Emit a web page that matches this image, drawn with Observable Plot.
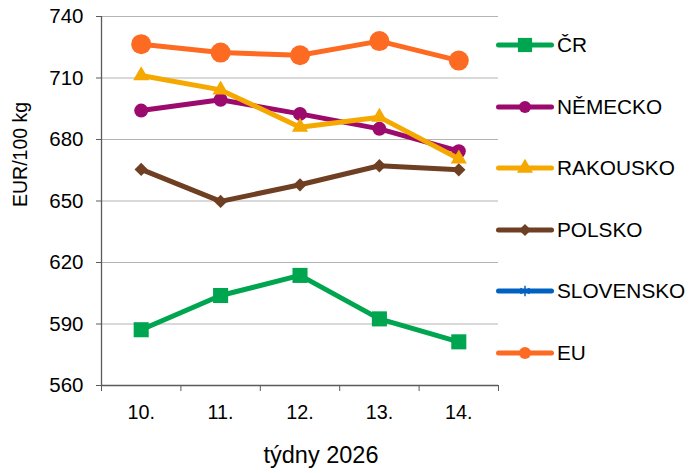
<!DOCTYPE html>
<html><head><meta charset="utf-8">
<script src="https://cdn.jsdelivr.net/npm/d3@7"></script>
<script src="https://cdn.jsdelivr.net/npm/@observablehq/plot@0.6"></script>
<style>
body{margin:0;background:#fff;font-family:"Liberation Sans",Arial,sans-serif}
#wrap{position:relative;width:690px;height:473px}
#legend{position:absolute;left:496px;top:0}
.item{position:absolute;left:0;display:flex;align-items:center;height:30px;font-size:20.8px;color:#000;white-space:nowrap}
.item span{margin-left:3px}
</style></head><body><div id="wrap"><div id="legend"></div></div>
<script>
const weeks = [10, 11, 12, 13, 14];
const weekLabels = ["10.", "11.", "12.", "13.", "14."];
const seriesNames = ["ČR", "NĚMECKO", "RAKOUSKO", "POLSKO", "SLOVENSKO", "EU"];
const cr = [587.2, 603.9, 613.7, 592.5, 581.3];
const nemecko = [694.1, 699.4, 692.5, 685.2, 674.3];
const rakousko = [711.2, 704.2, 686.0, 690.9, 670.6];
const polsko = [665.4, 649.8, 657.9, 667.2, 665.2];
const slovensko = [null, null, null, null, null];
const eu = [726.5, 722.4, 721.1, 728.0, 718.5];
const yTicks = [560, 590, 620, 650, 680, 710, 740];
const xTitle = "týdny 2026";
const yTitle = "EUR/100 kg";

const seriesValues = [cr, nemecko, rakousko, polsko, slovensko, eu];
const colors = ["#00a550", "#9b0a6c", "#f5a800", "#6e3f22", "#0062c0", "#fd6a22"];
const symbols = ["square", "circle", "triangle", "diamond2", "asterisk", "circle"];
const radii = [8.5, 7, 6, 6, 5, 10];

const boundaries = [...weeks.map(w => w - 0.5), weeks[weeks.length - 1] + 0.5];

const seriesMarks = seriesNames.flatMap((name, s) => {
  const rows = weeks.map((w, i) => ({week: w, value: seriesValues[s][i]})).filter(d => d.value != null);
  return [
    Plot.line(rows, {x: "week", y: "value", stroke: colors[s], strokeWidth: 5, strokeLinejoin: "round", strokeLinecap: "round"}),
    Plot.dot(rows, {x: "week", y: "value", symbol: () => symbols[s], r: radii[s], fill: colors[s], stroke: s === 4 ? colors[s] : "none"})
  ];
});

const chart = Plot.plot({
  width: 690,
  height: 473,
  marginLeft: 101,
  marginRight: 192,
  marginTop: 16,
  marginBottom: 88,
  style: {fontFamily: "'Liberation Sans', Arial, sans-serif", fontSize: "20px", color: "#000", background: "#fff"},
  x: {type: "linear", domain: [boundaries[0], boundaries[boundaries.length - 1]]},
  y: {domain: [yTicks[0], yTicks[yTicks.length - 1]]},
  symbol: {type: "identity"},
  marks: [
    Plot.gridY({ticks: yTicks, stroke: "#b4b4b4", strokeOpacity: 1, strokeWidth: 1.2}),
    Plot.ruleY([yTicks[0]], {stroke: "#5a5a5a", strokeWidth: 1.3}),
    Plot.ruleX([boundaries[0]], {stroke: "#5a5a5a", strokeWidth: 1.3}),
    Plot.axisY({ticks: yTicks, tickSize: 5, tickPadding: 13, fontSize: 20.5, label: null, stroke: "#5a5a5a"}),
    Plot.axisX({ticks: boundaries, tickSize: 6, tickFormat: () => "", label: null, stroke: "#5a5a5a"}),
    Plot.axisX({ticks: weeks, tickSize: 0, tickPadding: 19, fontSize: 19.8, label: null, tickFormat: d => weekLabels[weeks.indexOf(d)]}),
    Plot.text([xTitle], {text: d => d, frameAnchor: "bottom", dx: 21, dy: 77, fontSize: 23.5}),
    Plot.text([yTitle], {text: d => d, frameAnchor: "left", rotate: -90, dx: -81, dy: 6, fontSize: 19.5}),
    ...seriesMarks
  ]
});
document.getElementById("wrap").prepend(chart);

const legend = document.getElementById("legend");
const legendSizes = [8, 6, 6, 5.5, 5, 6];
seriesNames.forEach((name, s) => {
  const item = document.createElement("div");
  item.className = "item";
  item.style.top = (45 + s * 61.6 - 15) + "px";
  const svg = d3.create("svg").attr("width", 58).attr("height", 20);
  svg.append("line").attr("x1", 2.5).attr("x2", 55.5).attr("y1", 10).attr("y2", 10)
    .attr("stroke", colors[s]).attr("stroke-width", 5).attr("stroke-linecap", "round");
  const symType = {square: d3.symbolSquare, circle: d3.symbolCircle, triangle: d3.symbolTriangle, diamond2: d3.symbolDiamond2, asterisk: d3.symbolAsterisk}[symbols[s]];
  const r = legendSizes[s];
  svg.append("path").attr("transform", "translate(29,10)")
    .attr("d", d3.symbol(symType, Math.PI * r * r)())
    .attr("fill", symbols[s] === "asterisk" ? "none" : colors[s])
    .attr("stroke", symbols[s] === "asterisk" ? colors[s] : "none")
    .attr("stroke-width", 1.5);
  item.appendChild(svg.node());
  const label = document.createElement("span");
  label.textContent = name;
  item.appendChild(label);
  legend.appendChild(item);
});
</script>
</body></html>
